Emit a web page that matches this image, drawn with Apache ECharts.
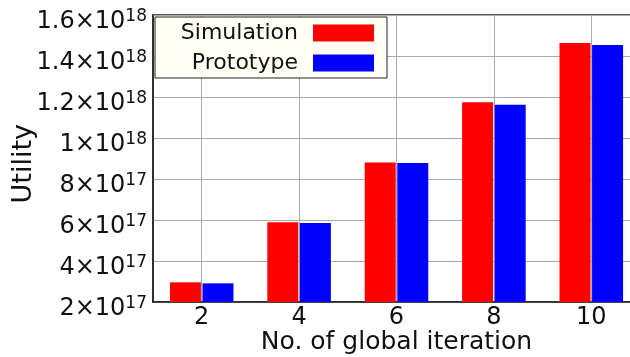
<!DOCTYPE html>
<html>
<head>
<meta charset="utf-8">
<script src="https://cdn.jsdelivr.net/npm/echarts@6/dist/echarts.min.js"></script>
<style>
html,body{margin:0;padding:0;background:#fff;}
#c{width:630px;height:357px;}
</style>
</head>
<body>
<div id="c"></div>
<script>
const iterations = ['2', '4', '6', '8', '10'];
const simulation = [2.96e17, 5.89e17, 8.81e17, 1.174e18, 1.463e18];
const prototype = [2.91e17, 5.85e17, 8.78e17, 1.162e18, 1.454e18];
const yMin = 2e17, yMax = 1.6e18, yStep = 2e17;

function sciLabel(v) {
  const e = Math.floor(Math.log10(v) + 1e-9);
  const m = +(v / Math.pow(10, e)).toFixed(1);
  return '{b|' + m + '×10}{s|' + e + '}';
}

const chart = echarts.init(document.getElementById('c'), null, {renderer: 'canvas'});
const FONT = 'DejaVu Sans';
chart.setOption({
  animation: false,
  textStyle: {fontFamily: FONT},
  grid: {left: 153, top: 15, right: -10, bottom: 55, outerBoundsMode: 'none', containLabel: false, show: true, borderColor: '#222', borderWidth: 1.5, backgroundColor: 'transparent'},
  legend: {
    orient: 'vertical', left: 155, top: 17,
    itemWidth: 61, itemHeight: 17, itemGap: 4,
    align: 'right',
    padding: [3, 13, 2, 8],
    backgroundColor: '#fffff4', borderColor: '#222', borderWidth: 1,
    icon: 'rect',
    textStyle: {fontFamily: FONT, fontSize: 22, color: '#111', width: 135, align: 'right', lineHeight: 26, padding: [0, 10, 0, 0]},
    data: ['Simulation', 'Prototype']
  },
  xAxis: {
    type: 'category', data: iterations, boundaryGap: true,
    name: 'No. of global iteration', nameLocation: 'middle', nameGap: 28, nameMoveOverlap: false,
    nameTextStyle: {fontFamily: FONT, fontSize: 25, color: '#111'},
    axisLine: {lineStyle: {color: '#222', width: 1.5}},
    axisTick: {show: false},
    axisLabel: {fontFamily: FONT, fontSize: 24, color: '#111', margin: 4},
    splitLine: {show: true, alignWithLabel: true, lineStyle: {color: '#aaa', width: 1}}
  },
  yAxis: {
    type: 'value', min: yMin, max: yMax, interval: yStep,
    axisLine: {show: true, lineStyle: {color: '#222', width: 1.5}},
    axisTick: {show: false},
    splitLine: {show: true, lineStyle: {color: '#aaa', width: 1}},
    axisLabel: {
      margin: 6, color: '#111', padding: [13, 0, 0, 0],
      formatter: sciLabel,
      rich: {
        b: {fontFamily: FONT, fontSize: 24, color: '#111', lineHeight: 26},
        s: {fontFamily: FONT, fontSize: 17, color: '#111', verticalAlign: 'top', lineHeight: 17}
      }
    }
  },
  graphic: [{
    type: 'text', left: 10, top: 124, rotation: Math.PI / 2,
    style: {text: 'Utility', fontFamily: FONT, fontSize: 27, fill: '#111'}
  }],
  series: [
    {name: 'Simulation', type: 'bar', data: simulation, barWidth: 31, barGap: '5%', itemStyle: {color: '#ff0000'}},
    {name: 'Prototype', type: 'bar', data: prototype, barWidth: 31, barGap: '5%', itemStyle: {color: '#0000ff'}}
  ]
});
</script>
</body>
</html>
